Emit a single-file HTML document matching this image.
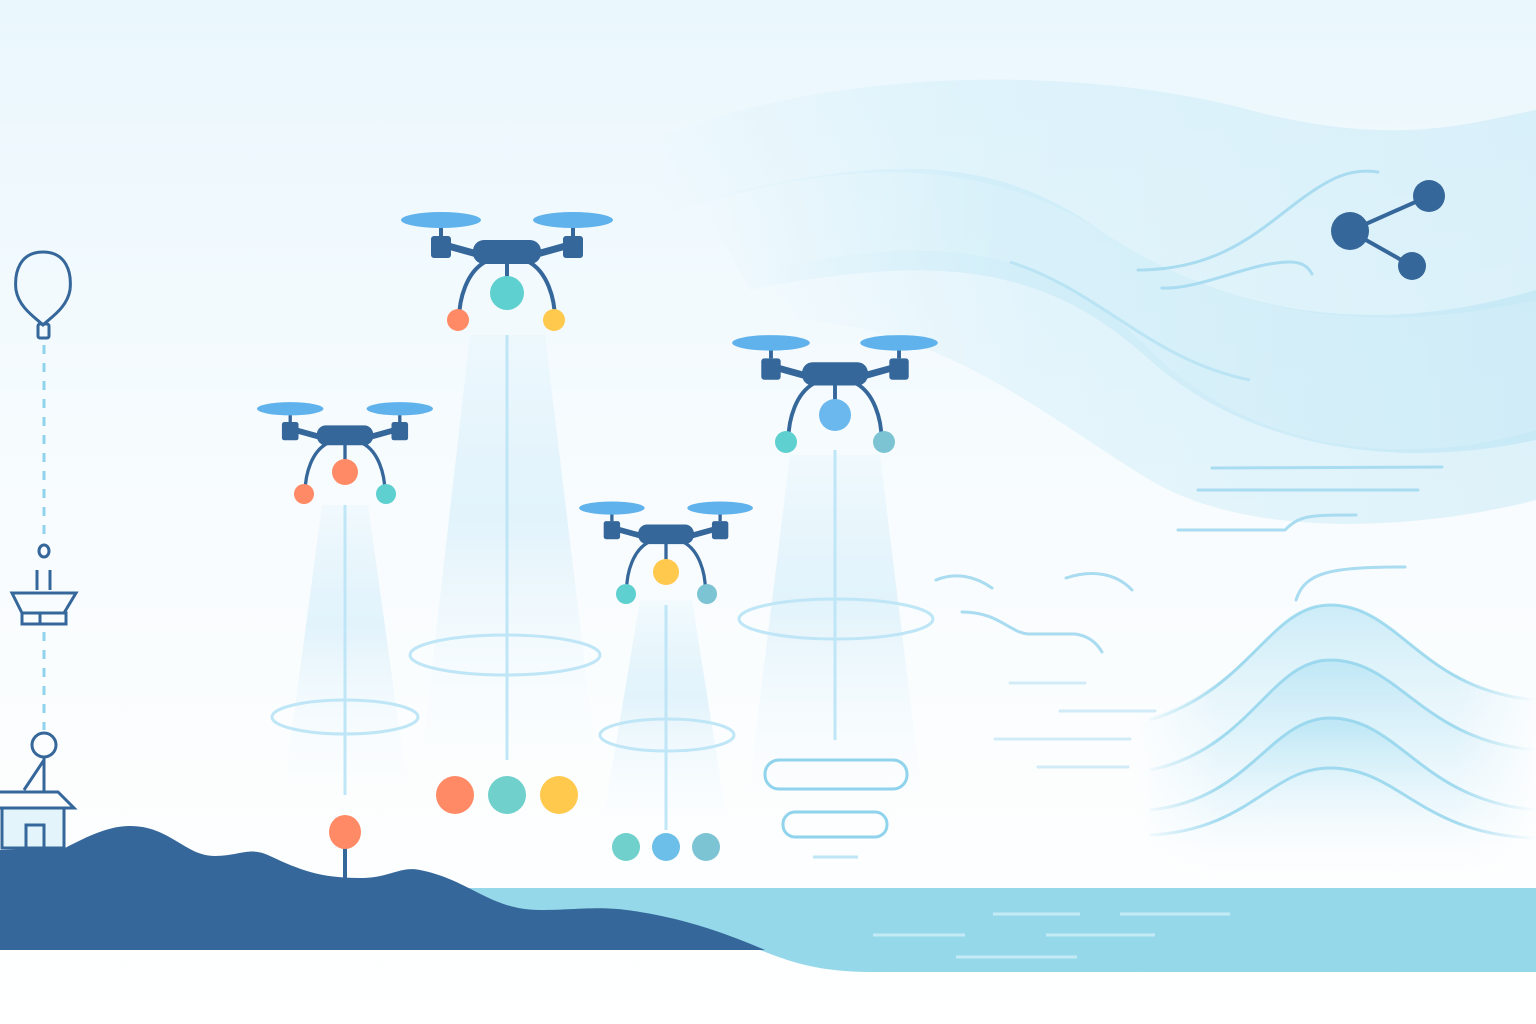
<!DOCTYPE html>
<html><head><meta charset="utf-8"><style>html,body{margin:0;padding:0;background:#fff}svg{display:block}</style></head>
<body>
<svg width="1536" height="1024" viewBox="0 0 1536 1024" xmlns="http://www.w3.org/2000/svg">
<defs>
<linearGradient id="bg" x1="0" y1="0" x2="0" y2="1">
<stop offset="0" stop-color="#eaf7fd"/><stop offset="0.5" stop-color="#f8fcfe"/><stop offset="1" stop-color="#ffffff"/></linearGradient>
<linearGradient id="beam" x1="0" y1="0" x2="0" y2="1">
<stop offset="0" stop-color="#d6effb" stop-opacity="0.2"/><stop offset="0.4" stop-color="#dff2fb" stop-opacity="0.9"/><stop offset="1" stop-color="#ffffff" stop-opacity="0.2"/></linearGradient>
<linearGradient id="wv" x1="0" y1="0" x2="1" y2="0">
<stop offset="0" stop-color="#c6eaf7" stop-opacity="0"/><stop offset="0.35" stop-color="#c6eaf7" stop-opacity="0.8"/><stop offset="1" stop-color="#bfe6f5"/></linearGradient>
<linearGradient id="hill" x1="0" y1="0" x2="0" y2="1">
<stop offset="0" stop-color="#a6def2" stop-opacity="0.55"/><stop offset="1" stop-color="#ffffff" stop-opacity="0"/></linearGradient>
<linearGradient id="hm" x1="0" y1="0" x2="1" y2="0">
<stop offset="0" stop-color="#fff" stop-opacity="0"/><stop offset="0.2" stop-color="#fff" stop-opacity="1"/><stop offset="0.8" stop-color="#fff" stop-opacity="1"/><stop offset="1" stop-color="#fff" stop-opacity="0"/></linearGradient>
<mask id="hmask" maskUnits="userSpaceOnUse" x="1140" y="590" width="396" height="300">
<rect x="1140" y="590" width="396" height="300" fill="url(#hm)"/></mask>
<g id="drone">
<path d="M-66 -4 L-30 6" stroke="#35679a" stroke-width="7"/>
<path d="M66 -4 L30 6" stroke="#35679a" stroke-width="7"/>
<rect x="-76" y="-12" width="20" height="22" rx="3" fill="#35679a"/>
<rect x="56" y="-12" width="20" height="22" rx="3" fill="#35679a"/>
<line x1="-66" y1="-12" x2="-66" y2="-26" stroke="#35679a" stroke-width="4"/>
<line x1="66" y1="-12" x2="66" y2="-26" stroke="#35679a" stroke-width="4"/>
<ellipse cx="-66" cy="-28" rx="40" ry="8" fill="#5fb2ec"/>
<ellipse cx="66" cy="-28" rx="40" ry="8" fill="#5fb2ec"/>
<rect x="-34" y="-8" width="68" height="24" rx="11" fill="#35679a"/>
<path d="M-22 14 C-40 24 -48 50 -48 72" fill="none" stroke="#35679a" stroke-width="4"/>
<path d="M22 14 C40 24 48 50 48 72" fill="none" stroke="#35679a" stroke-width="4"/>
<line x1="0" y1="14" x2="0" y2="36" stroke="#35679a" stroke-width="4"/>
</g>
</defs>
<rect width="1536" height="1024" fill="url(#bg)"/>
<path d="M650 140 C850 60 1100 70 1250 110 C1400 150 1480 120 1536 110 L1536 300 C1400 330 1250 330 1100 230 C950 140 800 170 650 220 Z" fill="url(#wv)" opacity="0.45"/>
<path d="M700 200 C900 150 1000 160 1100 230 C1250 330 1400 330 1536 290 L1536 440 C1400 470 1250 450 1150 360 C1050 270 950 250 750 290 Z" fill="url(#wv)" opacity="0.7"/>
<path d="M760 270 C950 230 1050 250 1150 350 C1250 450 1400 470 1536 430 L1536 500 C1420 530 1250 540 1150 480 C1050 420 950 330 800 320 Z" fill="url(#wv)" opacity="0.45"/>
<path d="M1010 262 C1100 290 1150 360 1250 380" fill="none" stroke="#a8dcf0" stroke-width="3" opacity="0.6"/>
<g stroke="#a9dcf0" stroke-width="3" fill="none" stroke-linecap="round">
<line x1="1212" y1="468" x2="1442" y2="467"/>
<line x1="1198" y1="490" x2="1418" y2="490"/>
<path d="M1178 530 L1285 530 C1300 515 1310 515 1356 515"/>
<path d="M1138 270 C1220 270 1260 230 1300 200 C1330 178 1350 168 1378 172"/>
<path d="M1162 288 C1200 290 1250 262 1290 262 C1305 262 1310 270 1312 274"/>
<path d="M936 580 C955 572 975 576 992 588"/>
<path d="M1066 578 C1090 570 1115 572 1132 590"/>
<path d="M962 612 C1000 612 1010 634 1030 634 L1075 634 C1090 636 1098 645 1102 652"/>
<path d="M1296 600 C1305 572 1330 567 1405 567"/>
<line x1="1010" y1="683" x2="1085" y2="683" opacity="0.5"/>
<line x1="1060" y1="711" x2="1155" y2="711" opacity="0.5"/>
<line x1="995" y1="739" x2="1130" y2="739" opacity="0.5"/>
<line x1="1038" y1="767" x2="1128" y2="767" opacity="0.5"/>
</g>
<g stroke="#35679a" stroke-width="4"><line x1="1350" y1="231" x2="1429" y2="196"/><line x1="1350" y1="231" x2="1412" y2="266"/></g>
<circle cx="1350" cy="231" r="19" fill="#35679a"/><circle cx="1429" cy="196" r="16" fill="#35679a"/><circle cx="1412" cy="266" r="14" fill="#35679a"/>
<g mask="url(#hmask)">
<path d="M1140 720 C1250 690 1270 605 1330 605 C1400 605 1420 690 1536 700 L1536 880 L1140 880 Z" fill="url(#hill)"/>
<path d="M1140 770 C1250 750 1270 660 1330 660 C1400 660 1420 740 1536 750 L1536 880 L1140 880 Z" fill="url(#hill)"/>
<path d="M1140 810 C1250 800 1270 718 1330 718 C1400 718 1420 800 1536 810 L1536 880 L1140 880 Z" fill="url(#hill)"/>
<g fill="none" stroke="#8fd3ec" stroke-width="3" opacity="0.8">
<path d="M1150 720 C1250 690 1270 605 1330 605 C1400 605 1420 690 1536 700"/>
<path d="M1150 770 C1250 750 1270 660 1330 660 C1400 660 1420 740 1536 750"/>
<path d="M1150 810 C1250 800 1270 718 1330 718 C1400 718 1420 800 1536 810"/>
<path d="M1150 835 C1250 830 1270 768 1330 768 C1400 768 1420 835 1536 838"/>
</g>
</g>
<polygon points="322,505 368,505 410,805 282,805" fill="url(#beam)"/>
<polygon points="470,335 545,335 600,790 418,790" fill="url(#beam)"/>
<polygon points="640,600 692,600 730,840 600,840" fill="url(#beam)"/>
<polygon points="790,455 880,455 925,820 745,820" fill="url(#beam)"/>
<g fill="none" stroke="#bfe6f6" stroke-width="3">
<ellipse cx="345" cy="717" rx="73" ry="17"/>
<ellipse cx="505" cy="655" rx="95" ry="20"/>
<ellipse cx="667" cy="735" rx="67" ry="16"/>
<ellipse cx="836" cy="619" rx="97" ry="20"/>
<line x1="345" y1="505" x2="345" y2="795"/>
<line x1="507" y1="335" x2="507" y2="760"/>
<line x1="666" y1="605" x2="666" y2="830"/>
<line x1="835" y1="450" x2="835" y2="740"/>
</g>
<use href="#drone" transform="translate(507,248)"/>
<circle cx="507" cy="293" r="17" fill="#5fd0d0"/><circle cx="458" cy="320" r="11" fill="#ff8a65"/><circle cx="554" cy="320" r="11" fill="#ffc94d"/>
<use href="#drone" transform="translate(345,432) scale(0.83)"/>
<circle cx="345" cy="472" r="13" fill="#ff8a65"/><circle cx="304" cy="494" r="10" fill="#ff8a65"/><circle cx="386" cy="494" r="10" fill="#5fd0d0"/>
<use href="#drone" transform="translate(666,531) scale(0.82)"/>
<circle cx="666" cy="572" r="13" fill="#ffc94d"/><circle cx="626" cy="594" r="10" fill="#5fd0d0"/><circle cx="707" cy="594" r="10" fill="#7cc4d4"/>
<use href="#drone" transform="translate(835,370) scale(0.97)"/>
<circle cx="835" cy="415" r="16" fill="#6ab8ee"/><circle cx="786" cy="442" r="11" fill="#5fd0d0"/><circle cx="884" cy="442" r="11" fill="#7cc4d4"/>
<circle cx="455" cy="795" r="19" fill="#ff8a65"/><circle cx="507" cy="795" r="19" fill="#6fd0cc"/><circle cx="559" cy="795" r="19" fill="#ffc94d"/>
<circle cx="626" cy="847" r="14" fill="#6fd0cc"/><circle cx="666" cy="847" r="14" fill="#6bbfe8"/><circle cx="706" cy="847" r="14" fill="#7cc4d4"/>
<rect x="765" y="760" width="142" height="29" rx="14" fill="none" stroke="#8fd3ec" stroke-width="3"/>
<rect x="783" y="812" width="104" height="25" rx="12" fill="none" stroke="#8fd3ec" stroke-width="3"/>
<line x1="813" y1="857" x2="858" y2="857" stroke="#bfe6f6" stroke-width="3"/>
<path d="M450 888 L1536 888 L1536 972 L870 972 C820 972 790 962 760 950 L450 950 Z" fill="#95d8ea"/>
<g stroke="#c4ebf5" stroke-width="3"><line x1="993" y1="914" x2="1080" y2="914"/><line x1="1120" y1="914" x2="1230" y2="914"/><line x1="873" y1="935" x2="965" y2="935"/><line x1="1046" y1="935" x2="1155" y2="935"/><line x1="956" y1="957" x2="1077" y2="957"/></g>
<path d="M0 850 L65 848 C90 835 110 826 130 826 C170 826 185 856 215 856 C240 856 250 846 270 856 C300 870 320 878 360 878 C390 878 400 866 420 870 C470 880 490 910 540 910 C580 910 600 905 640 912 C690 920 730 935 765 950 L0 950 Z" fill="#35679a"/>
<line x1="345" y1="840" x2="345" y2="878" stroke="#35679a" stroke-width="4"/>
<ellipse cx="345" cy="832" rx="16" ry="17" fill="#ff8a65"/>
<g fill="none" stroke="#35679a" stroke-width="3">
<path d="M43 252 C20 252 14 272 16 290 C19 308 36 318 43 325 C50 318 67 308 70 290 C72 272 66 252 43 252 Z"/>
<rect x="38" y="324" width="11" height="14" rx="2"/>
<ellipse cx="44" cy="551" rx="5" ry="6"/>
<line x1="37" y1="570" x2="37" y2="590"/><line x1="50" y1="570" x2="50" y2="590"/>
<path d="M12 593 L76 593 L64 613 L22 613 Z"/>
<rect x="22" y="613" width="44" height="11"/>
<line x1="40" y1="613" x2="40" y2="624"/>
<circle cx="44" cy="745" r="12"/>
<line x1="44" y1="757" x2="44" y2="792"/><line x1="44" y1="760" x2="24" y2="790"/>
<path d="M0 792 L58 792 L74 808 L0 808"/>
<rect x="2" y="808" width="62" height="40" fill="#e3f4fb"/>
<rect x="26" y="825" width="18" height="23"/>
</g>
<g stroke="#8fd3ec" stroke-width="3" stroke-dasharray="9 9"><line x1="44" y1="345" x2="44" y2="535"/><line x1="44" y1="632" x2="44" y2="730"/></g>
</svg>
</body></html>
